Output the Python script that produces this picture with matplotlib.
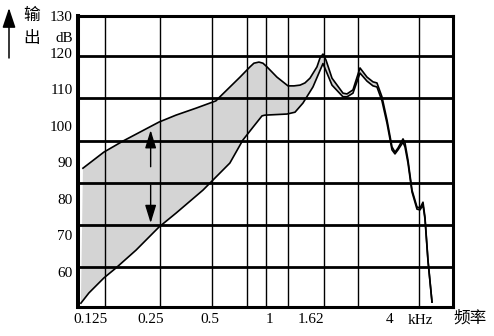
import numpy as np
import matplotlib.pyplot as plt

plt.rcParams['font.family'] = ['Liberation Serif', 'DejaVu Serif']
cjk = ['Noto Sans CJK SC', 'DejaVu Sans']

# upper edge of the output band (kHz, dB)
upper_f = [0.1145, 0.146, 0.182, 0.2766, 0.337, 0.425, 0.536, 0.561, 0.709,
           0.796, 0.833, 0.883, 0.925, 0.969, 1.027, 1.088, 1.237, 1.326,
           1.422, 1.506, 1.597, 1.732, 1.793, 1.857, 1.922,
           2.062, 2.343, 2.454, 2.630, 2.854, 3.095, 3.318, 3.475, 3.683,
           3.904, 4.138, 4.284, 4.435, 4.702, 4.811, 4.982, 5.219, 5.530,
           5.727, 5.930, 6.068, 6.283, 6.583]
upper_db = [88.4, 92.8, 95.8, 101.0, 102.9, 104.8, 106.8, 107.9, 113.3,
            116.1, 117.1, 117.4, 117.1, 116.1, 114.7, 113.3, 110.9, 110.9,
            111.1, 111.7, 113.0, 116.1, 118.5, 119.6, 118.0,
            113.0, 108.9, 108.7, 109.8, 115.8, 113.3, 112.0, 111.7, 107.9,
            101.6, 94.2, 92.8, 93.9, 96.4, 95.3, 90.6, 82.4, 77.8,
            77.5, 79.1, 75.0, 63.3, 51.8]

# lower edge of the band
lower_f = [0.1118, 0.1227, 0.146, 0.1678, 0.212, 0.2766, 0.337, 0.461, 0.630,
           0.733, 0.824, 0.915, 0.947, 1.223, 1.342, 1.472, 1.653, 1.857,
           2.062, 2.343, 2.454, 2.630, 2.854, 3.095, 3.318, 3.475, 3.683,
           3.904, 4.138, 4.284, 4.435, 4.702, 4.811, 4.982, 5.219, 5.530,
           5.727, 5.930, 6.068, 6.283, 6.583]
lower_db = [51.5, 54.3, 58.4, 61.1, 66.0, 72.3, 76.1, 82.4, 89.8,
            96.1, 99.6, 102.7, 102.9, 103.2, 103.7, 106.2, 110.6, 117.0,
            111.1, 107.9, 107.9, 108.9, 114.4, 112.2, 110.9, 110.6, 106.8,
            100.7, 93.4, 92.3, 93.4, 95.5, 94.2, 89.8, 81.9, 77.2,
            77.0, 78.3, 74.5, 63.0, 51.8]

grid_f = [0.148, 0.28, 0.512, 0.768, 0.958, 1.237, 1.878, 2.788, 5.66]
grid_db = [119.1, 107.6, 95.85, 84.4, 72.9, 61.4]

tick_f = [0.125, 0.25, 0.5, 1, 1.62, 4]
tick_labels = ['0.125', '0.25', '0.5', '1', '1.62', '4']
tick_db = [60, 70, 80, 90, 100, 110, 120, 130]

arrow_f = 0.2512
arrow_up = (88.8, 98.8)
arrow_down = (83.8, 73.4)

fig = plt.figure(figsize=(4.94, 3.36), dpi=100)
ax = fig.add_axes([0.1579, 0.0857, 0.7591, 0.8667])
ax.set_xscale('log', base=2)
ax.set_xlim(0.1081, 8.40)
ax.set_ylim(50.4, 130)

ax.fill(np.r_[upper_f, lower_f[::-1]], np.r_[upper_db, lower_db[::-1]],
        color='#d4d4d4', lw=0, zorder=1)
for f in grid_f:
    ax.axvline(f, color='k', lw=1.0, zorder=2)
for d in grid_db:
    ax.axhline(d, color='k', lw=2.0, zorder=2)
ax.plot(upper_f, upper_db, color='k', lw=1.2, zorder=3)
ax.plot(lower_f, lower_db, color='k', lw=1.2, zorder=3)

head = '-|>,head_length=0.55,head_width=0.17'
for tail, tip in [arrow_up, arrow_down]:
    ax.annotate('', xy=(arrow_f, tip), xytext=(arrow_f, tail),
                arrowprops=dict(arrowstyle=head, mutation_scale=20, lw=1,
                                color='k', shrinkA=0, shrinkB=0), zorder=4)

ax.set_xticks(tick_f, tick_labels)
ax.minorticks_off()
ax.set_yticks(tick_db)
ax.tick_params(axis='both', length=0, labelsize=11)
ax.tick_params(axis='y', pad=3.8)
ax.tick_params(axis='x', pad=4.5)
for s in ax.spines.values():
    s.set_linewidth(2.2)
    s.set_zorder(5)
ax.spines['left'].set_linewidth(2.9)

ax.text(0.912, -0.023, 'kHz', transform=ax.transAxes, ha='center', va='top',
        fontsize=11)
fig.text(72.7 / 494, 1 - 38 / 336, 'dB', ha='right', va='center', fontsize=11)
fig.text(31.5 / 494, 1 - 15 / 336, '输', ha='center', va='center',
         family=cjk, fontsize=12)
fig.text(31.5 / 494, 1 - 38.5 / 336, '出', ha='center', va='center',
         family=cjk, fontsize=12)
fig.text(470 / 494, 1 - 318.5 / 336, '频率', ha='center', va='center',
         family=cjk, fontsize=12)
ax.annotate('', xy=(9 / 494, 1 - 8 / 336), xycoords='figure fraction',
            xytext=(9 / 494, 1 - 58 / 336), textcoords='figure fraction',
            arrowprops=dict(arrowstyle='-|>,head_length=0.6,head_width=0.2',
                            mutation_scale=20, lw=1.1, color='k',
                            shrinkA=0, shrinkB=0), annotation_clip=False)

fig.savefig('out.png', dpi=100)
